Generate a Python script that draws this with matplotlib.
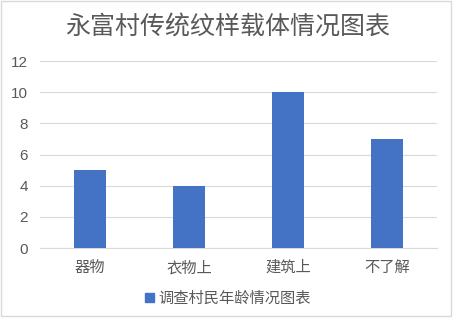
import matplotlib
matplotlib.use('Agg')
import matplotlib.pyplot as plt
import matplotlib.patches as mpatches

plt.rcParams['font.family'] = ['Noto Sans CJK SC', 'DejaVu Sans']

categories = ['器物', '衣物上', '建筑上', '不了解']
values = [5, 4, 10, 7]
series_name = '调查村民年龄情况图表'
title = '永富村传统纹样载体情况图表'
y_ticks = [0, 2, 4, 6, 8, 10, 12]

BAR_COLOR = '#4472c4'
TEXT_COLOR = '#595959'
GRID_COLOR = '#d9d9d9'

fig = plt.figure(figsize=(4.56, 3.2), dpi=100)
fig.patch.set_facecolor('white')
ax = fig.add_axes([0.088, 0.225, 0.870, 0.584])

x = range(len(categories))
ax.bar(x, values, width=0.32, color=BAR_COLOR, zorder=3, label=series_name)

ax.set_xlim(-0.5, len(categories) - 0.5)
ax.set_ylim(0, 12)
ax.set_yticks(y_ticks)
ax.set_yticklabels([str(t) for t in y_ticks], fontsize=11, color=TEXT_COLOR,
                   family=['Liberation Sans', 'DejaVu Sans'])
ax.set_xticks(list(x))
ax.set_xticklabels(categories, fontsize=11, color=TEXT_COLOR)
ax.tick_params(axis='both', length=0)
ax.tick_params(axis='y', pad=9)
ax.tick_params(axis='x', pad=8)

ax.yaxis.grid(True, color=GRID_COLOR, linewidth=0.8)
ax.set_axisbelow(True)
for spine in ['top', 'right', 'left']:
    ax.spines[spine].set_visible(False)
ax.spines['bottom'].set_color(GRID_COLOR)
ax.spines['bottom'].set_linewidth(0.8)

fig.text(0.5, 0.918, title, ha='center', va='center', fontsize=18, color=TEXT_COLOR)

handle = mpatches.Patch(color=BAR_COLOR)
fig.legend([handle], [series_name], loc='center', bbox_to_anchor=(0.5, 0.068),
           frameon=False, fontsize=11, labelcolor=TEXT_COLOR,
           handlelength=0.55, handleheight=0.55, handletextpad=0.3)

# chart border
border = mpatches.Rectangle((0.002, 0.012), 0.988, 0.985, transform=fig.transFigure,
                            fill=False, edgecolor='#d9d9d9', linewidth=1)
fig.patches.append(border)

fig.savefig('out.png', dpi=100, facecolor='white')
